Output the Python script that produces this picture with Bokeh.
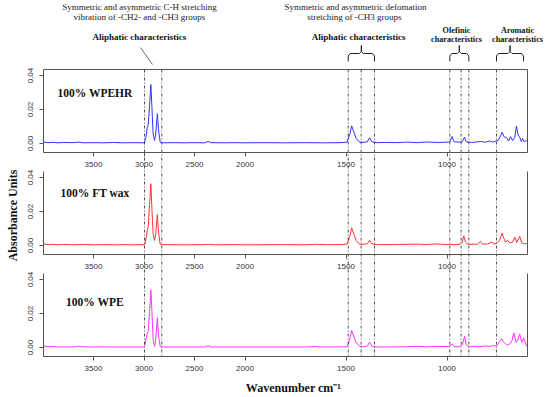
import numpy as np
from bokeh.plotting import figure
from bokeh.models import (Range1d, LinearAxis, FixedTicker, PrintfTickFormatter,
                          CustomJSTickFormatter, ColumnDataSource)
from bokeh.core.properties import value
from bokeh.embed import file_html
from bokeh.resources import INLINE

# ---------------- data ----------------
# 100% WPEHR (blue)
wpehr_w = [4000, 3990, 3950, 3900, 3850, 3800, 3700, 3650, 3600, 3500, 3400, 3300, 3200, 3100,
           3000, 2995, 2980, 2968, 2958, 2945, 2932, 2922, 2910, 2896, 2885, 2868, 2856, 2840,
           2824, 2700, 2600, 2500, 2400, 2365, 2340, 2200, 2100, 2000, 1900, 1800, 1700, 1600,
           1520, 1495, 1480, 1472, 1462, 1450, 1435, 1420, 1395, 1383, 1372, 1350, 1300, 1250,
           1200, 1150, 1100, 1050, 1000, 985, 975, 965, 940, 925, 913, 905, 880, 860, 830, 810,
           790, 775, 760, 745, 735, 727, 718, 705, 695, 686, 675, 665, 656, 648, 640, 632, 626,
           618, 610, 602]
wpehr_a = [0.0022, 0.0008, 0.0005, 0.0007, 0.0004, 0.0006, 0.0005, 0.0008, 0.0004, 0.0005,
           0.0004, 0.0006, 0.0004, 0.0005, 0.0004, 0.0006, 0.0040, 0.0095, 0.0110, 0.0220,
           0.0347, 0.0220, 0.0060, 0.0018, 0.0050, 0.0175, 0.0080, 0.0008, 0.0004, 0.0005,
           0.0004, 0.0005, 0.0004, 0.0012, 0.0005, 0.0004, 0.0005, 0.0004, 0.0005, 0.0004,
           0.0005, 0.0004, 0.0005, 0.0008, 0.0060, 0.0104, 0.0070, 0.0030, 0.0010, 0.0006,
           0.0010, 0.0034, 0.0010, 0.0005, 0.0006, 0.0005, 0.0008, 0.0005, 0.0009, 0.0006,
           0.0008, 0.0010, 0.0041, 0.0010, 0.0008, 0.0010, 0.0037, 0.0010, 0.0006, 0.0008,
           0.0012, 0.0007, 0.0015, 0.0008, 0.0014, 0.0020, 0.0045, 0.0066, 0.0040, 0.0034,
           0.0015, 0.0041, 0.0018, 0.0035, 0.0102, 0.0050, 0.0037, 0.0012, 0.0030, 0.0010,
           0.0015, 0.0018]

# 100% FT wax (red)
ftwax_w = [4000, 3990, 3950, 3900, 3850, 3800, 3700, 3600, 3500, 3400, 3300, 3200, 3100, 3000,
           2990, 2978, 2968, 2958, 2945, 2932, 2922, 2910, 2896, 2885, 2868, 2856, 2840, 2824,
           2600, 2400, 2360, 2300, 2100, 2000, 1800, 1700, 1650, 1600, 1520, 1495, 1480, 1472,
           1462, 1450, 1435, 1420, 1395, 1383, 1372, 1350, 1250, 1150, 1100, 1050, 1000, 986,
           960, 935, 925, 917, 908, 895, 870, 850, 834, 825, 800, 776, 768, 755, 740, 727, 718,
           710, 699, 690, 675, 664, 655, 640, 630, 618, 605, 600]
ftwax_a = [0.0028, 0.0009, 0.0005, 0.0007, 0.0004, 0.0006, 0.0004, 0.0006, 0.0004, 0.0005,
           0.0004, 0.0005, 0.0004, 0.0005, 0.0008, 0.0050, 0.0088, 0.0110, 0.0240, 0.0363,
           0.0220, 0.0070, 0.0030, 0.0060, 0.0182, 0.0080, 0.0008, 0.0005, 0.0004, 0.0005,
           0.0007, 0.0004, 0.0005, 0.0004, 0.0005, 0.0004, 0.0007, 0.0005, 0.0005, 0.0008,
           0.0060, 0.0104, 0.0070, 0.0030, 0.0010, 0.0006, 0.0010, 0.0030, 0.0010, 0.0005,
           0.0006, 0.0008, 0.0006, 0.0009, 0.0005, 0.0007, 0.0004, 0.0008, 0.0020, 0.0057,
           0.0020, 0.0006, 0.0008, 0.0007, 0.0024, 0.0008, 0.0009, 0.0020, 0.0008, 0.0012,
           0.0030, 0.0072, 0.0040, 0.0020, 0.0030, 0.0015, 0.0020, 0.0049, 0.0018, 0.0055,
           0.0015, 0.0010, 0.0012, 0.0010]

# 100% WPE (magenta)
wpe_w = [4000, 3990, 3950, 3900, 3850, 3800, 3700, 3650, 3600, 3500, 3400, 3300, 3100, 3000,
         2992, 2980, 2968, 2958, 2945, 2932, 2922, 2910, 2896, 2885, 2868, 2856, 2840, 2824,
         2600, 2400, 2365, 2340, 2000, 1800, 1700, 1650, 1630, 1500, 1492, 1480, 1472, 1462,
         1450, 1435, 1420, 1395, 1383, 1372, 1350, 1200, 1150, 1100, 1050, 1000, 985, 974, 965,
         940, 925, 913, 905, 890, 860, 840, 810, 790, 770, 755, 740, 730, 718, 705, 690, 678,
         669, 658, 650, 640, 630, 620, 610, 602]
wpe_a = [0.0024, 0.0009, 0.0004, 0.0006, 0.0003, 0.0004, 0.0003, 0.0007, 0.0004, 0.0003,
         0.0004, 0.0003, 0.0003, 0.0003, 0.0008, 0.0050, 0.0084, 0.0095, 0.0210, 0.0339,
         0.0220, 0.0050, 0.0006, 0.0040, 0.0175, 0.0070, 0.0006, 0.0003, 0.0003, 0.0003,
         0.0010, 0.0003, 0.0003, 0.0003, 0.0003, 0.0006, 0.0003, 0.0004, 0.0008, 0.0060,
         0.0100, 0.0068, 0.0030, 0.0010, 0.0003, 0.0008, 0.0031, 0.0008, 0.0003, 0.0004,
         0.0007, 0.0004, 0.0007, 0.0005, 0.0010, 0.0022, 0.0006, 0.0004, 0.0015, 0.0065,
         0.0015, 0.0004, 0.0008, 0.0005, 0.0009, 0.0006, 0.0012, 0.0008, 0.0035, 0.0051,
         0.0030, 0.0015, 0.0020, 0.0040, 0.0086, 0.0030, 0.0045, 0.0080, 0.0030, 0.0057,
         0.0020, 0.0002]

panel_names = ["100% WPEHR", "100% FT wax", "100% WPE"]
panel_colors = ["#3333ff", "#ff3333", "#ff33ff"]

x_ticks = [3500, 3000, 2500, 2000, 1500, 1000]
y_ticks = [0.00, 0.02, 0.04]

# marked band positions (cm-1), dashed guide lines
bands = [2995, 2824, 1489, 1425, 1359, 986, 930, 892, 755]
# bracket groups (start, end) in cm-1
brackets = [(1489, 1359), (986, 892), (755, 621)]

# ---------------- geometry ----------------
W, H = 550, 397
W_BREAK = 2000          # scale changes at 2000 cm-1 (upper range compressed 2x)
X_LEFT_W, X_RIGHT_W = 4000, 600
PX_U = 0.202            # px per (transformed) unit
X2000 = 244.5           # canvas x of 2000 cm-1
PX_A = 1700.0           # px per absorbance unit
Y0 = 143.0              # canvas y of 0.00 in top panel
STEP = 0.06             # vertical step between panels (absorbance units)
Y_BOX = (-0.0055, 0.0435)


def xu(w):
    w = np.asarray(w, dtype=float)
    return np.where(w > W_BREAK, (W_BREAK - w) / 2.0, W_BREAK - w)


def vy(py):  # canvas pixel row -> top-panel data units (for annotations)
    return (Y0 - py) / PX_A


def ux(px):  # canvas pixel column -> transformed x units (for annotations)
    return (px - X2000) / PX_U


U_LEFT, U_RIGHT = float(xu(X_LEFT_W)), float(xu(X_RIGHT_W))

p = figure(width=W, height=H,
           x_range=Range1d(-X2000 / PX_U, (W - X2000) / PX_U),
           y_range=Range1d(-(H - Y0) / PX_A, Y0 / PX_A),
           x_axis_type=None, y_axis_type=None,
           toolbar_location=None, output_backend="svg",
           min_border=0, outline_line_color=None)
p.background_fill_color = "white"
p.border_fill_color = "white"

range_names = ["default", "p2", "p3"]
p.extra_y_ranges = {
    "p2": Range1d(-(H - Y0) / PX_A + STEP, Y0 / PX_A + STEP),
    "p3": Range1d(-(H - Y0) / PX_A + 2 * STEP, Y0 / PX_A + 2 * STEP),
}

AX_COLOR = "#555555"
LBL_COLOR = "#333333"
TICK_FONT = "Liberation Sans"
SERIF = value("Liberation Serif")

xfmt = CustomJSTickFormatter(code="""
const w = tick <= 0 ? 2000 - 2*tick : 2000 - tick;
return w.toFixed(0);
""")


def style_axis(ax):
    ax.axis_line_color = AX_COLOR
    ax.axis_line_width = 1
    ax.major_tick_line_color = AX_COLOR
    ax.major_tick_in = 0
    ax.major_tick_out = 4
    ax.minor_tick_line_color = None
    ax.major_label_text_font = TICK_FONT
    ax.major_label_text_font_size = "8px"
    ax.major_label_text_color = LBL_COLOR


series = [(wpehr_w, wpehr_a), (ftwax_w, ftwax_a), (wpe_w, wpe_a)]
label_y = [0.030, 0.0306, 0.0265]

for k, (rn, (ws, As), col) in enumerate(zip(range_names, series, panel_colors)):
    src = ColumnDataSource(dict(x=xu(ws), y=As))
    p.line("x", "y", source=src, y_range_name=rn, line_color=col, line_width=1)

    left = LinearAxis(y_range_name=rn, fixed_location=U_LEFT, bounds=Y_BOX,
                      ticker=FixedTicker(ticks=y_ticks),
                      formatter=PrintfTickFormatter(format="%.2f"))
    style_axis(left)
    left.major_label_orientation = "parallel"
    left.major_label_standoff = 6
    p.add_layout(left, "left")

    bottom = LinearAxis(y_range_name=rn, fixed_location=Y_BOX[0], bounds=(U_LEFT, U_RIGHT),
                        ticker=FixedTicker(ticks=[float(v) for v in xu(x_ticks)]),
                        formatter=xfmt)
    style_axis(bottom)
    bottom.major_label_standoff = 5
    p.add_layout(bottom, "below")

    right = LinearAxis(y_range_name=rn, fixed_location=U_RIGHT, bounds=Y_BOX,
                       ticker=FixedTicker(ticks=[]))
    style_axis(right)
    p.add_layout(right, "right")

    if k == 0:
        top = LinearAxis(y_range_name=rn, fixed_location=Y_BOX[1], bounds=(U_LEFT, U_RIGHT),
                         ticker=FixedTicker(ticks=[]))
        style_axis(top)
        p.add_layout(top, "above")

    p.text(x=[float(xu(3485))], y=[label_y[k]], text=[panel_names[k]], y_range_name=rn,
           text_font=SERIF, text_font_style="bold", text_font_size="11.5px",
           text_align="center", text_baseline="middle", text_color="#111111")

# dashed guide lines through all three panels
bx = xu(bands)
p.segment(x0=bx, y0=[Y_BOX[1]] * len(bands), x1=bx, y1=[Y_BOX[0] - 2 * STEP] * len(bands),
          line_color="#222222", line_width=0.8, line_dash="3 2 1 2")

# brackets
d = 2.0 / PX_U
bxs, bys = [], []
for ws, we in brackets:
    xl, xr = float(xu(ws)), float(xu(we))
    xc = (xl + xr) / 2
    bxs.append([xl, xl, xl + d, xc - d, xc, xc])
    bys.append([vy(61), vy(55.5), vy(53), vy(53), vy(51), vy(45)])
    bxs.append([xr, xr, xr - d, xc + d, xc, xc])
    bys.append([vy(61), vy(55.5), vy(53), vy(53), vy(51), vy(45)])
p.multi_line(bxs, bys, line_color="#222222", line_width=1)

# pointer line for the C-H stretching group
p.line(x=[float(xu(3035)), float(xu(2916))], y=[vy(47), vy(64)],
       line_color="#444444", line_width=0.8)

# annotation texts
notes = dict(
    x=[float(xu(3045)), float(xu(3045)), float(xu(1453)), float(xu(1453))],
    y=[vy(6.5), vy(16.5), vy(6.5), vy(16.5)],
    text=["Symmetric and asymmetric C-H stretching", "vibration of -CH2- and -CH3 groups",
          "Symmetric and asymmetric defomation", "stretching of  -CH3 groups"])
p.text(x="x", y="y", text="text", source=ColumnDataSource(notes),
       text_font=SERIF, text_font_size="9px", text_align="center",
       text_baseline="middle", text_color="#222222")

heads = dict(
    x=[float(xu(3045)), float(xu(1437))],
    y=[vy(36), vy(36)],
    text=["Aliphatic characteristics", "Aliphatic characteristics"])
p.text(x="x", y="y", text="text", source=ColumnDataSource(heads),
       text_font=SERIF, text_font_style="bold", text_font_size="9px", text_align="center",
       text_baseline="middle", text_color="#111111")

heads2 = dict(
    x=[float(xu(953)), float(xu(953)), float(xu(651)), float(xu(651))],
    y=[vy(29.5), vy(38.5), vy(29.5), vy(38.5)],
    text=["Olefinic", "characteristics", "Aromatic", "characteristics"])
p.text(x="x", y="y", text="text", source=ColumnDataSource(heads2),
       text_font=SERIF, text_font_style="bold", text_font_size="8.2px", text_align="center",
       text_baseline="middle", text_color="#111111")

# axis titles
p.text(x=[ux(12)], y=[vy(215)], text=["Absorbance Units"], angle=np.pi / 2,
       text_font=SERIF, text_font_style="bold", text_font_size="12px",
       text_align="center", text_baseline="middle", text_color="#111111")
p.text(x=[ux(293)], y=[vy(387)], text=["Wavenumber cm\u207b\u00b9"],
       text_font=SERIF, text_font_style="bold", text_font_size="12px",
       text_align="center", text_baseline="middle", text_color="#111111")

open("out.html", "w").write(file_html(p, INLINE))
